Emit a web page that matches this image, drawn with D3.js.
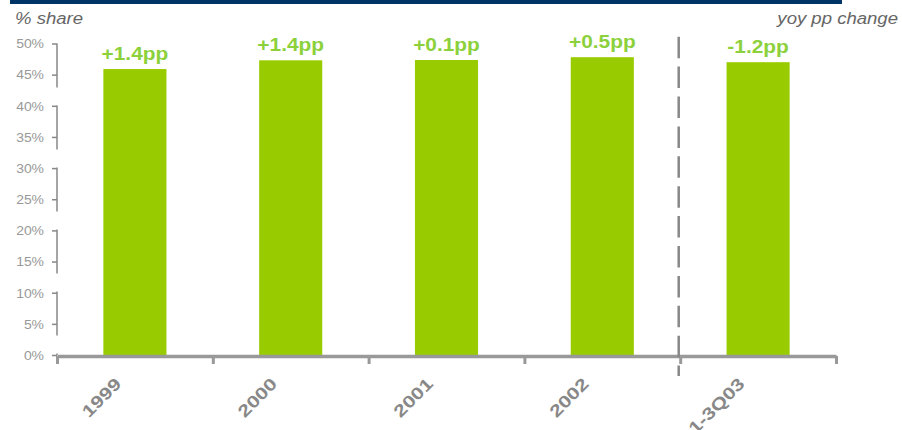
<!DOCTYPE html>
<html>
<head>
<meta charset="utf-8">
<script src="https://cdn.jsdelivr.net/npm/d3@7"></script>
<style>
	body { margin: 0; background: #fff; }
	svg { display: block; font-family: "Liberation Sans", Arial, sans-serif; }
</style>
</head>
<body>
<svg id="chart" width="902" height="430"></svg>
<script>
var categories = ["1999", "2000", "2001", "2002", "1-3Q03"];
var shares = [45.9, 47.3, 47.35, 47.8, 47.0];
var changes = ["+1.4pp", "+1.4pp", "+0.1pp", "+0.5pp", "-1.2pp"];
var yTicks = [0, 5, 10, 15, 20, 25, 30, 35, 40, 45, 50];

var svg = d3.select("#chart");
var plotLeft = 57, plotRight = 836, plotTop = 43.5, plotBottom = 355;

var xScale = d3.scaleBand()
	.domain(categories)
	.range([plotLeft, plotRight])
	.paddingInner(0.595)
	.paddingOuter(0.2975);

// boundary ticks sit between the categories
var edgeScale = d3.scaleLinear()
	.domain([0, categories.length])
	.range([plotLeft, plotRight]);

var yScale = d3.scaleLinear()
	.domain([0, 50])
	.range([plotBottom, plotTop]);

// navy band on top
svg.append("rect")
	.attr("x", 10).attr("y", 0)
	.attr("width", 832).attr("height", 4)
	.attr("fill", "#003366");

svg.append("text")
	.attr("transform", "translate(15,24) scale(1.16,1)")
	.style("font-size", "16px")
	.style("font-style", "italic")
	.attr("fill", "#666")
	.text("% share");

svg.append("text")
	.attr("transform", "translate(898,24) scale(1.16,1)")
	.style("font-size", "16px")
	.style("font-style", "italic")
	.style("text-anchor", "end")
	.attr("fill", "#666")
	.text("yoy pp change");

// y axis
var yAxis = d3.axisLeft(yScale).tickValues(yTicks).tickSize(5)
	.tickFormat(function(d) { return d + "%"; });
var gy = svg.append("g")
	.attr("transform", "translate(" + plotLeft + ",0)")
	.call(yAxis);
gy.select(".domain").remove();
gy.selectAll(".tick line").attr("stroke", "#888").attr("stroke-width", 1.5);
gy.selectAll(".tick text")
	.attr("x", 0)
	.attr("dy", "0.36em")
	.attr("transform", "translate(-13,0) scale(1.16,1)")
	.attr("fill", "#999")
	.style("font-size", "12px")
	.style("font-family", "'Liberation Sans', Arial, sans-serif");
svg.append("line")
	.attr("x1", plotLeft).attr("x2", plotLeft)
	.attr("y1", yScale(50)).attr("y2", yScale(0))
	.attr("stroke", "#888")
	.attr("stroke-width", 1.5)
	.attr("stroke-dasharray", "44,18");

// bars
svg.selectAll("rect.bar")
	.data(categories)
	.enter().append("rect")
	.attr("class", "bar")
	.attr("x", function(d) { return xScale(d); })
	.attr("y", function(d, i) { return yScale(shares[i]); })
	.attr("width", xScale.bandwidth())
	.attr("height", function(d, i) { return yScale(0) - yScale(shares[i]); })
	.attr("fill", "#99cc00");

svg.selectAll("text.change")
	.data(categories)
	.enter().append("text")
	.attr("class", "change")
	.attr("transform", function(d, i) {
		return "translate(" + (xScale(d) + xScale.bandwidth() / 2) + "," + (yScale(shares[i]) - 9) + ") scale(1.16,1)";
	})
	.style("text-anchor", "middle")
	.style("font-size", "18px")
	.style("font-weight", "bold")
	.attr("fill", "#8cd13c")
	.text(function(d, i) { return changes[i]; });

// x axis: thick line, ticks at the edges
var axisY = 356;
var gEdge = svg.append("g")
	.attr("transform", "translate(0," + axisY + ")")
	.call(d3.axisBottom(edgeScale).ticks(categories.length).tickSize(8).tickSizeOuter(0).tickFormat(""));
gEdge.select(".domain").attr("stroke", "#999").attr("stroke-width", 3.5);
gEdge.selectAll(".tick line").attr("stroke", "#999").attr("stroke-width", 3);

var gx = svg.append("g")
	.attr("transform", "translate(0," + axisY + ")")
	.call(d3.axisBottom(xScale).tickSize(0));
gx.select(".domain").remove();
gx.selectAll(".tick text")
	.attr("y", 0)
	.attr("dy", 0)
	.attr("transform", "translate(-12.5,29) rotate(-45) scale(1.25,1)")
	.style("text-anchor", "end")
	.style("font-size", "17px")
	.style("font-weight", "bold")
	.style("font-family", "'Liberation Sans', Arial, sans-serif")
	.attr("fill", "#888");

// dashed separator before the partial year
svg.append("line")
	.attr("x1", edgeScale(4) - 1.5).attr("x2", edgeScale(4) - 1.5)
	.attr("y1", 36.7).attr("y2", 376)
	.attr("stroke", "#888")
	.attr("stroke-width", 2.5)
	.attr("stroke-dasharray", "21.5,8.4");
</script>
</body>
</html>
